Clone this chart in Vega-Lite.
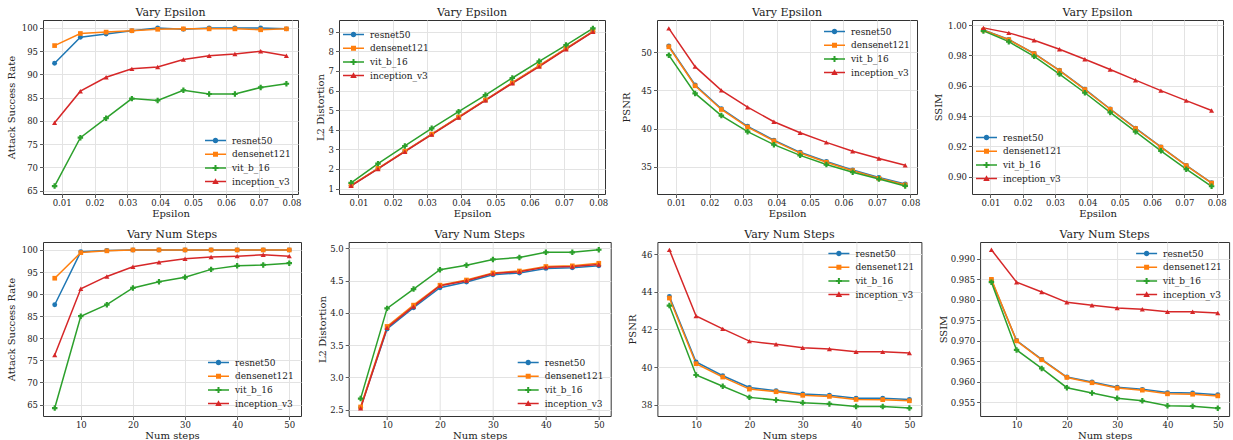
{
  "$schema": "https://vega.github.io/schema/vega-lite/v6.json",
  "padding": {"left": 5, "top": 6, "right": 2, "bottom": 1},
  "datasets": {
    "eps": [
      {"eps": 0.00784, "model": "resnet50", "asr": 92.4, "l2": 1.15, "psnr": 50.8, "ssim": 0.9968},
      {"eps": 0.01569, "model": "resnet50", "asr": 98.0, "l2": 2.02, "psnr": 45.7, "ssim": 0.9905},
      {"eps": 0.02353, "model": "resnet50", "asr": 98.7, "l2": 2.9, "psnr": 42.6, "ssim": 0.9813},
      {"eps": 0.03137, "model": "resnet50", "asr": 99.4, "l2": 3.77, "psnr": 40.3, "ssim": 0.9702},
      {"eps": 0.03922, "model": "resnet50", "asr": 100.0, "l2": 4.64, "psnr": 38.5, "ssim": 0.9578},
      {"eps": 0.04706, "model": "resnet50", "asr": 99.7, "l2": 5.51, "psnr": 36.9, "ssim": 0.9447},
      {"eps": 0.0549, "model": "resnet50", "asr": 100.0, "l2": 6.39, "psnr": 35.7, "ssim": 0.932},
      {"eps": 0.06275, "model": "resnet50", "asr": 100.0, "l2": 7.26, "psnr": 34.6, "ssim": 0.9197},
      {"eps": 0.07059, "model": "resnet50", "asr": 100.0, "l2": 8.14, "psnr": 33.6, "ssim": 0.9075},
      {"eps": 0.07843, "model": "resnet50", "asr": 99.8, "l2": 9.01, "psnr": 32.75, "ssim": 0.896},
      {"eps": 0.00784, "model": "densenet121", "asr": 96.2, "l2": 1.16, "psnr": 50.7, "ssim": 0.9967},
      {"eps": 0.01569, "model": "densenet121", "asr": 98.8, "l2": 2.03, "psnr": 45.6, "ssim": 0.9904},
      {"eps": 0.02353, "model": "densenet121", "asr": 99.1, "l2": 2.91, "psnr": 42.5, "ssim": 0.9812},
      {"eps": 0.03137, "model": "densenet121", "asr": 99.4, "l2": 3.78, "psnr": 40.2, "ssim": 0.97},
      {"eps": 0.03922, "model": "densenet121", "asr": 99.7, "l2": 4.65, "psnr": 38.4, "ssim": 0.9575},
      {"eps": 0.04706, "model": "densenet121", "asr": 99.8, "l2": 5.52, "psnr": 36.8, "ssim": 0.9445},
      {"eps": 0.0549, "model": "densenet121", "asr": 99.8, "l2": 6.4, "psnr": 35.6, "ssim": 0.9318},
      {"eps": 0.06275, "model": "densenet121", "asr": 99.8, "l2": 7.27, "psnr": 34.5, "ssim": 0.9195},
      {"eps": 0.07059, "model": "densenet121", "asr": 99.6, "l2": 8.15, "psnr": 33.5, "ssim": 0.9073},
      {"eps": 0.07843, "model": "densenet121", "asr": 99.8, "l2": 9.02, "psnr": 32.65, "ssim": 0.8958},
      {"eps": 0.00784, "model": "vit_b_16", "asr": 66.0, "l2": 1.29, "psnr": 49.6, "ssim": 0.9962},
      {"eps": 0.01569, "model": "vit_b_16", "asr": 76.4, "l2": 2.27, "psnr": 44.6, "ssim": 0.9891},
      {"eps": 0.02353, "model": "vit_b_16", "asr": 80.6, "l2": 3.17, "psnr": 41.7, "ssim": 0.9794},
      {"eps": 0.03137, "model": "vit_b_16", "asr": 84.8, "l2": 4.07, "psnr": 39.6, "ssim": 0.9677},
      {"eps": 0.03922, "model": "vit_b_16", "asr": 84.4, "l2": 4.92, "psnr": 37.9, "ssim": 0.9554},
      {"eps": 0.04706, "model": "vit_b_16", "asr": 86.6, "l2": 5.77, "psnr": 36.5, "ssim": 0.9424},
      {"eps": 0.0549, "model": "vit_b_16", "asr": 85.8, "l2": 6.64, "psnr": 35.3, "ssim": 0.9297},
      {"eps": 0.06275, "model": "vit_b_16", "asr": 85.8, "l2": 7.49, "psnr": 34.3, "ssim": 0.9171},
      {"eps": 0.07059, "model": "vit_b_16", "asr": 87.2, "l2": 8.32, "psnr": 33.4, "ssim": 0.905},
      {"eps": 0.07843, "model": "vit_b_16", "asr": 88.0, "l2": 9.17, "psnr": 32.5, "ssim": 0.8937},
      {"eps": 0.00784, "model": "inception_v3", "asr": 79.6, "l2": 1.14, "psnr": 53.1, "ssim": 0.9982},
      {"eps": 0.01569, "model": "inception_v3", "asr": 86.4, "l2": 2.0, "psnr": 48.1, "ssim": 0.9949},
      {"eps": 0.02353, "model": "inception_v3", "asr": 89.4, "l2": 2.88, "psnr": 45.0, "ssim": 0.99},
      {"eps": 0.03137, "model": "inception_v3", "asr": 91.2, "l2": 3.75, "psnr": 42.8, "ssim": 0.9841},
      {"eps": 0.03922, "model": "inception_v3", "asr": 91.6, "l2": 4.62, "psnr": 40.9, "ssim": 0.9775},
      {"eps": 0.04706, "model": "inception_v3", "asr": 93.2, "l2": 5.5, "psnr": 39.45, "ssim": 0.9707},
      {"eps": 0.0549, "model": "inception_v3", "asr": 94.0, "l2": 6.37, "psnr": 38.2, "ssim": 0.9637},
      {"eps": 0.06275, "model": "inception_v3", "asr": 94.4, "l2": 7.22, "psnr": 37.05, "ssim": 0.9568},
      {"eps": 0.07059, "model": "inception_v3", "asr": 95.0, "l2": 8.11, "psnr": 36.1, "ssim": 0.9502},
      {"eps": 0.07843, "model": "inception_v3", "asr": 94.0, "l2": 9.0, "psnr": 35.2, "ssim": 0.9437}
    ],
    "steps": [
      {"steps": 5, "model": "resnet50", "asr": 87.6, "l2": 2.53, "psnr": 43.75, "ssim": 0.9848},
      {"steps": 10, "model": "resnet50", "asr": 99.6, "l2": 3.75, "psnr": 40.27, "ssim": 0.9701},
      {"steps": 15, "model": "resnet50", "asr": 99.9, "l2": 4.08, "psnr": 39.54, "ssim": 0.9655},
      {"steps": 20, "model": "resnet50", "asr": 100.0, "l2": 4.39, "psnr": 38.92, "ssim": 0.9612},
      {"steps": 25, "model": "resnet50", "asr": 100.0, "l2": 4.48, "psnr": 38.74, "ssim": 0.96},
      {"steps": 30, "model": "resnet50", "asr": 100.0, "l2": 4.59, "psnr": 38.57, "ssim": 0.9587},
      {"steps": 35, "model": "resnet50", "asr": 100.0, "l2": 4.62, "psnr": 38.5, "ssim": 0.9582},
      {"steps": 40, "model": "resnet50", "asr": 100.0, "l2": 4.69, "psnr": 38.35, "ssim": 0.9574},
      {"steps": 45, "model": "resnet50", "asr": 100.0, "l2": 4.7, "psnr": 38.35, "ssim": 0.9573},
      {"steps": 50, "model": "resnet50", "asr": 100.0, "l2": 4.73, "psnr": 38.28, "ssim": 0.9569},
      {"steps": 5, "model": "densenet121", "asr": 93.6, "l2": 2.54, "psnr": 43.67, "ssim": 0.985},
      {"steps": 10, "model": "densenet121", "asr": 99.4, "l2": 3.79, "psnr": 40.18, "ssim": 0.97},
      {"steps": 15, "model": "densenet121", "asr": 99.8, "l2": 4.12, "psnr": 39.47, "ssim": 0.9654},
      {"steps": 20, "model": "densenet121", "asr": 100.0, "l2": 4.43, "psnr": 38.83, "ssim": 0.9611},
      {"steps": 25, "model": "densenet121", "asr": 100.0, "l2": 4.51, "psnr": 38.69, "ssim": 0.9598},
      {"steps": 30, "model": "densenet121", "asr": 100.0, "l2": 4.62, "psnr": 38.5, "ssim": 0.9585},
      {"steps": 35, "model": "densenet121", "asr": 100.0, "l2": 4.65, "psnr": 38.44, "ssim": 0.958},
      {"steps": 40, "model": "densenet121", "asr": 100.0, "l2": 4.72, "psnr": 38.28, "ssim": 0.9571},
      {"steps": 45, "model": "densenet121", "asr": 100.0, "l2": 4.73, "psnr": 38.27, "ssim": 0.957},
      {"steps": 50, "model": "densenet121", "asr": 100.0, "l2": 4.77, "psnr": 38.21, "ssim": 0.9566},
      {"steps": 5, "model": "vit_b_16", "asr": 64.2, "l2": 2.67, "psnr": 43.27, "ssim": 0.9843},
      {"steps": 10, "model": "vit_b_16", "asr": 85.0, "l2": 4.07, "psnr": 39.58, "ssim": 0.9678},
      {"steps": 15, "model": "vit_b_16", "asr": 87.6, "l2": 4.37, "psnr": 38.98, "ssim": 0.9633},
      {"steps": 20, "model": "vit_b_16", "asr": 91.4, "l2": 4.67, "psnr": 38.39, "ssim": 0.9586},
      {"steps": 25, "model": "vit_b_16", "asr": 92.8, "l2": 4.74, "psnr": 38.25, "ssim": 0.9573},
      {"steps": 30, "model": "vit_b_16", "asr": 93.8, "l2": 4.83, "psnr": 38.1, "ssim": 0.956},
      {"steps": 35, "model": "vit_b_16", "asr": 95.6, "l2": 4.86, "psnr": 38.04, "ssim": 0.9554},
      {"steps": 40, "model": "vit_b_16", "asr": 96.4, "l2": 4.94, "psnr": 37.91, "ssim": 0.9542},
      {"steps": 45, "model": "vit_b_16", "asr": 96.6, "l2": 4.94, "psnr": 37.9, "ssim": 0.9541},
      {"steps": 50, "model": "vit_b_16", "asr": 97.0, "l2": 4.98, "psnr": 37.82, "ssim": 0.9536},
      {"steps": 5, "model": "inception_v3", "asr": 76.2, "l2": 2.52, "psnr": 46.23, "ssim": 0.9922},
      {"steps": 10, "model": "inception_v3", "asr": 91.2, "l2": 3.77, "psnr": 42.72, "ssim": 0.9843},
      {"steps": 15, "model": "inception_v3", "asr": 94.0, "l2": 4.1, "psnr": 42.03, "ssim": 0.9819},
      {"steps": 20, "model": "inception_v3", "asr": 96.2, "l2": 4.42, "psnr": 41.38, "ssim": 0.9794},
      {"steps": 25, "model": "inception_v3", "asr": 97.2, "l2": 4.5, "psnr": 41.21, "ssim": 0.9787},
      {"steps": 30, "model": "inception_v3", "asr": 98.0, "l2": 4.61, "psnr": 41.03, "ssim": 0.978},
      {"steps": 35, "model": "inception_v3", "asr": 98.4, "l2": 4.64, "psnr": 40.96, "ssim": 0.9777},
      {"steps": 40, "model": "inception_v3", "asr": 98.6, "l2": 4.71, "psnr": 40.82, "ssim": 0.9771},
      {"steps": 45, "model": "inception_v3", "asr": 98.9, "l2": 4.72, "psnr": 40.81, "ssim": 0.9771},
      {"steps": 50, "model": "inception_v3", "asr": 98.6, "l2": 4.75, "psnr": 40.75, "ssim": 0.9768}
    ]
  },
  "resolve": {"scale": {"color": "independent", "fill": "independent", "shape": "independent"}},
  "spacing": 9,
  "vconcat": [
    {
      "resolve": {"scale": {"color": "independent", "fill": "independent", "shape": "independent"}},
      "spacing": 12,
      "hconcat": [
        {
          "width": 255, "height": 174, "title": "Vary Epsilon", "data": {"name": "eps"},
          "encoding": {
            "x": {"field": "eps", "type": "quantitative", "title": "Epsilon", "scale": {"domain": [0.00431, 0.08196], "nice": false, "zero": false}, "axis": {"values": [0.01, 0.02, 0.03, 0.04, 0.05, 0.06, 0.07, 0.08], "format": ".2f"}},
            "y": {"field": "asr", "type": "quantitative", "title": "Attack Success Rate", "scale": {"domain": [64.3, 101.7], "nice": false, "zero": false}, "axis": {"values": [65, 70, 75, 80, 85, 90, 95, 100], "titlePadding": 5}}
          },
          "layer": [
            {"mark": {"type": "point", "filled": true, "opacity": 0}, "encoding": {
              "fill": {"field": "model", "type": "nominal", "scale": {"domain": ["resnet50", "densenet121", "vit_b_16", "inception_v3"], "range": ["#1f77b4", "#ff7f0e", "#2ca02c", "#d62728"]}, "legend": {"title": null, "orient": "bottom-right"}},
              "shape": {"field": "model", "type": "nominal", "scale": {"domain": ["resnet50", "densenet121", "vit_b_16", "inception_v3"], "range": ["M-4.2,-0.3H4.2V0.3H-4.2ZM1.1,0A1.1,1.1,0,1,1,-1.1,0A1.1,1.1,0,1,1,1.1,0Z", "M-4.2,-0.3H4.2V0.3H-4.2ZM-1,-1H1V1H-1Z", "M-4.2,-0.3H4.2V0.3H-4.2ZM-1.2,-0.4H-0.4V-1.2H0.4V-0.4H1.2V0.4H0.4V1.2H-0.4V0.4H-1.2Z", "M-4.2,-0.3H4.2V0.3H-4.2ZM0,-1.3L1.3,1H-1.3Z"]}, "legend": {"title": null, "orient": "bottom-right"}}}},
            {"mark": {"type": "line", "strokeWidth": 1.5}, "encoding": {"color": {"field": "model", "type": "nominal", "scale": {"domain": ["resnet50", "densenet121", "vit_b_16", "inception_v3"], "range": ["#1f77b4", "#ff7f0e", "#2ca02c", "#d62728"]}, "legend": null}}},
            {"mark": {"type": "point", "filled": true, "opacity": 1}, "encoding": {
              "color": {"field": "model", "type": "nominal", "legend": null},
              "shape": {"condition": [{"test": "datum.model === 'resnet50'", "value": "circle"}, {"test": "datum.model === 'densenet121'", "value": "square"}, {"test": "datum.model === 'vit_b_16'", "value": "cross"}], "value": "triangle-up"},
              "size": {"condition": [{"test": "datum.model === 'resnet50'", "value": 24}, {"test": "datum.model === 'densenet121'", "value": 22}, {"test": "datum.model === 'vit_b_16'", "value": 30}], "value": 26}}}
          ]
        },
        {
          "width": 266, "height": 174, "title": "Vary Epsilon", "data": {"name": "eps"},
          "encoding": {
            "x": {"field": "eps", "type": "quantitative", "title": "Epsilon", "scale": {"domain": [0.00431, 0.08196], "nice": false, "zero": false}, "axis": {"values": [0.01, 0.02, 0.03, 0.04, 0.05, 0.06, 0.07, 0.08], "format": ".2f"}},
            "y": {"field": "l2", "type": "quantitative", "title": "L2 Distortion", "scale": {"domain": [0.72, 9.6], "nice": false, "zero": false}, "axis": {"values": [1, 2, 3, 4, 5, 6, 7, 8, 9], "titlePadding": 3}}
          },
          "layer": [
            {"mark": {"type": "point", "filled": true, "opacity": 0}, "encoding": {
              "fill": {"field": "model", "type": "nominal", "scale": {"domain": ["resnet50", "densenet121", "vit_b_16", "inception_v3"], "range": ["#1f77b4", "#ff7f0e", "#2ca02c", "#d62728"]}, "legend": {"title": null, "orient": "top-left", "offset": 7}},
              "shape": {"field": "model", "type": "nominal", "scale": {"domain": ["resnet50", "densenet121", "vit_b_16", "inception_v3"], "range": ["M-4.2,-0.3H4.2V0.3H-4.2ZM1.1,0A1.1,1.1,0,1,1,-1.1,0A1.1,1.1,0,1,1,1.1,0Z", "M-4.2,-0.3H4.2V0.3H-4.2ZM-1,-1H1V1H-1Z", "M-4.2,-0.3H4.2V0.3H-4.2ZM-1.2,-0.4H-0.4V-1.2H0.4V-0.4H1.2V0.4H0.4V1.2H-0.4V0.4H-1.2Z", "M-4.2,-0.3H4.2V0.3H-4.2ZM0,-1.3L1.3,1H-1.3Z"]}, "legend": {"title": null, "orient": "top-left", "offset": 7}}}},
            {"mark": {"type": "line", "strokeWidth": 1.5}, "encoding": {"color": {"field": "model", "type": "nominal", "scale": {"domain": ["resnet50", "densenet121", "vit_b_16", "inception_v3"], "range": ["#1f77b4", "#ff7f0e", "#2ca02c", "#d62728"]}, "legend": null}}},
            {"mark": {"type": "point", "filled": true, "opacity": 1}, "encoding": {
              "color": {"field": "model", "type": "nominal", "legend": null},
              "shape": {"condition": [{"test": "datum.model === 'resnet50'", "value": "circle"}, {"test": "datum.model === 'densenet121'", "value": "square"}, {"test": "datum.model === 'vit_b_16'", "value": "cross"}], "value": "triangle-up"},
              "size": {"condition": [{"test": "datum.model === 'resnet50'", "value": 24}, {"test": "datum.model === 'densenet121'", "value": 22}, {"test": "datum.model === 'vit_b_16'", "value": 30}], "value": 26}}}
          ]
        },
        {
          "width": 260, "height": 174, "title": "Vary Epsilon", "data": {"name": "eps"},
          "encoding": {
            "x": {"field": "eps", "type": "quantitative", "title": "Epsilon", "scale": {"domain": [0.00431, 0.08196], "nice": false, "zero": false}, "axis": {"values": [0.01, 0.02, 0.03, 0.04, 0.05, 0.06, 0.07, 0.08], "format": ".2f"}},
            "y": {"field": "psnr", "type": "quantitative", "title": "PSNR", "scale": {"domain": [31.45, 54.2], "nice": false, "zero": false}, "axis": {"values": [35, 40, 45, 50], "titlePadding": 9}}
          },
          "layer": [
            {"mark": {"type": "point", "filled": true, "opacity": 0}, "encoding": {
              "fill": {"field": "model", "type": "nominal", "scale": {"domain": ["resnet50", "densenet121", "vit_b_16", "inception_v3"], "range": ["#1f77b4", "#ff7f0e", "#2ca02c", "#d62728"]}, "legend": {"title": null, "orient": "top-right"}},
              "shape": {"field": "model", "type": "nominal", "scale": {"domain": ["resnet50", "densenet121", "vit_b_16", "inception_v3"], "range": ["M-4.2,-0.3H4.2V0.3H-4.2ZM1.1,0A1.1,1.1,0,1,1,-1.1,0A1.1,1.1,0,1,1,1.1,0Z", "M-4.2,-0.3H4.2V0.3H-4.2ZM-1,-1H1V1H-1Z", "M-4.2,-0.3H4.2V0.3H-4.2ZM-1.2,-0.4H-0.4V-1.2H0.4V-0.4H1.2V0.4H0.4V1.2H-0.4V0.4H-1.2Z", "M-4.2,-0.3H4.2V0.3H-4.2ZM0,-1.3L1.3,1H-1.3Z"]}, "legend": {"title": null, "orient": "top-right"}}}},
            {"mark": {"type": "line", "strokeWidth": 1.5}, "encoding": {"color": {"field": "model", "type": "nominal", "scale": {"domain": ["resnet50", "densenet121", "vit_b_16", "inception_v3"], "range": ["#1f77b4", "#ff7f0e", "#2ca02c", "#d62728"]}, "legend": null}}},
            {"mark": {"type": "point", "filled": true, "opacity": 1}, "encoding": {
              "color": {"field": "model", "type": "nominal", "legend": null},
              "shape": {"condition": [{"test": "datum.model === 'resnet50'", "value": "circle"}, {"test": "datum.model === 'densenet121'", "value": "square"}, {"test": "datum.model === 'vit_b_16'", "value": "cross"}], "value": "triangle-up"},
              "size": {"condition": [{"test": "datum.model === 'resnet50'", "value": 24}, {"test": "datum.model === 'densenet121'", "value": 22}, {"test": "datum.model === 'vit_b_16'", "value": 30}], "value": 26}}}
          ]
        },
        {
          "width": 251, "height": 174, "title": "Vary Epsilon", "data": {"name": "eps"},
          "encoding": {
            "x": {"field": "eps", "type": "quantitative", "title": "Epsilon", "scale": {"domain": [0.00431, 0.08196], "nice": false, "zero": false}, "axis": {"values": [0.01, 0.02, 0.03, 0.04, 0.05, 0.06, 0.07, 0.08], "format": ".2f"}},
            "y": {"field": "ssim", "type": "quantitative", "title": "SSIM", "scale": {"domain": [0.8886, 1.0034], "nice": false, "zero": false}, "axis": {"values": [0.9, 0.92, 0.94, 0.96, 0.98, 1.0], "format": ".2f", "titlePadding": 4}}
          },
          "layer": [
            {"mark": {"type": "point", "filled": true, "opacity": 0}, "encoding": {
              "fill": {"field": "model", "type": "nominal", "scale": {"domain": ["resnet50", "densenet121", "vit_b_16", "inception_v3"], "range": ["#1f77b4", "#ff7f0e", "#2ca02c", "#d62728"]}, "legend": {"title": null, "orient": "bottom-left", "offset": 7}},
              "shape": {"field": "model", "type": "nominal", "scale": {"domain": ["resnet50", "densenet121", "vit_b_16", "inception_v3"], "range": ["M-4.2,-0.3H4.2V0.3H-4.2ZM1.1,0A1.1,1.1,0,1,1,-1.1,0A1.1,1.1,0,1,1,1.1,0Z", "M-4.2,-0.3H4.2V0.3H-4.2ZM-1,-1H1V1H-1Z", "M-4.2,-0.3H4.2V0.3H-4.2ZM-1.2,-0.4H-0.4V-1.2H0.4V-0.4H1.2V0.4H0.4V1.2H-0.4V0.4H-1.2Z", "M-4.2,-0.3H4.2V0.3H-4.2ZM0,-1.3L1.3,1H-1.3Z"]}, "legend": {"title": null, "orient": "bottom-left", "offset": 7}}}},
            {"mark": {"type": "line", "strokeWidth": 1.5}, "encoding": {"color": {"field": "model", "type": "nominal", "scale": {"domain": ["resnet50", "densenet121", "vit_b_16", "inception_v3"], "range": ["#1f77b4", "#ff7f0e", "#2ca02c", "#d62728"]}, "legend": null}}},
            {"mark": {"type": "point", "filled": true, "opacity": 1}, "encoding": {
              "color": {"field": "model", "type": "nominal", "legend": null},
              "shape": {"condition": [{"test": "datum.model === 'resnet50'", "value": "circle"}, {"test": "datum.model === 'densenet121'", "value": "square"}, {"test": "datum.model === 'vit_b_16'", "value": "cross"}], "value": "triangle-up"},
              "size": {"condition": [{"test": "datum.model === 'resnet50'", "value": 24}, {"test": "datum.model === 'densenet121'", "value": 22}, {"test": "datum.model === 'vit_b_16'", "value": 30}], "value": 26}}}
          ]
        }
      ]
    },
    {
      "resolve": {"scale": {"color": "independent", "fill": "independent", "shape": "independent"}},
      "spacing": 14.7,
      "hconcat": [
        {
          "width": 258, "height": 174, "title": "Vary Num Steps", "data": {"name": "steps"},
          "encoding": {
            "x": {"field": "steps", "type": "quantitative", "title": "Num steps", "scale": {"domain": [2.75, 52.25], "nice": false, "zero": false}, "axis": {"values": [10, 20, 30, 40, 50]}},
            "y": {"field": "asr", "type": "quantitative", "title": "Attack Success Rate", "scale": {"domain": [62.4, 101.8], "nice": false, "zero": false}, "axis": {"values": [65, 70, 75, 80, 85, 90, 95, 100], "titlePadding": 5}}
          },
          "layer": [
            {"mark": {"type": "point", "filled": true, "opacity": 0}, "encoding": {
              "fill": {"field": "model", "type": "nominal", "scale": {"domain": ["resnet50", "densenet121", "vit_b_16", "inception_v3"], "range": ["#1f77b4", "#ff7f0e", "#2ca02c", "#d62728"]}, "legend": {"title": null, "orient": "bottom-right"}},
              "shape": {"field": "model", "type": "nominal", "scale": {"domain": ["resnet50", "densenet121", "vit_b_16", "inception_v3"], "range": ["M-4.2,-0.3H4.2V0.3H-4.2ZM1.1,0A1.1,1.1,0,1,1,-1.1,0A1.1,1.1,0,1,1,1.1,0Z", "M-4.2,-0.3H4.2V0.3H-4.2ZM-1,-1H1V1H-1Z", "M-4.2,-0.3H4.2V0.3H-4.2ZM-1.2,-0.4H-0.4V-1.2H0.4V-0.4H1.2V0.4H0.4V1.2H-0.4V0.4H-1.2Z", "M-4.2,-0.3H4.2V0.3H-4.2ZM0,-1.3L1.3,1H-1.3Z"]}, "legend": {"title": null, "orient": "bottom-right"}}}},
            {"mark": {"type": "line", "strokeWidth": 1.5}, "encoding": {"color": {"field": "model", "type": "nominal", "scale": {"domain": ["resnet50", "densenet121", "vit_b_16", "inception_v3"], "range": ["#1f77b4", "#ff7f0e", "#2ca02c", "#d62728"]}, "legend": null}}},
            {"mark": {"type": "point", "filled": true, "opacity": 1}, "encoding": {
              "color": {"field": "model", "type": "nominal", "legend": null},
              "shape": {"condition": [{"test": "datum.model === 'resnet50'", "value": "circle"}, {"test": "datum.model === 'densenet121'", "value": "square"}, {"test": "datum.model === 'vit_b_16'", "value": "cross"}], "value": "triangle-up"},
              "size": {"condition": [{"test": "datum.model === 'resnet50'", "value": 24}, {"test": "datum.model === 'densenet121'", "value": 22}, {"test": "datum.model === 'vit_b_16'", "value": 30}], "value": 26}}}
          ]
        },
        {
          "width": 262, "height": 174, "title": "Vary Num Steps", "data": {"name": "steps"},
          "encoding": {
            "x": {"field": "steps", "type": "quantitative", "title": "Num steps", "scale": {"domain": [2.75, 52.25], "nice": false, "zero": false}, "axis": {"values": [10, 20, 30, 40, 50]}},
            "y": {"field": "l2", "type": "quantitative", "title": "L2 Distortion", "scale": {"domain": [2.4, 5.1], "nice": false, "zero": false}, "axis": {"values": [2.5, 3.0, 3.5, 4.0, 4.5, 5.0], "format": ".1f", "titlePadding": 2}}
          },
          "layer": [
            {"mark": {"type": "point", "filled": true, "opacity": 0}, "encoding": {
              "fill": {"field": "model", "type": "nominal", "scale": {"domain": ["resnet50", "densenet121", "vit_b_16", "inception_v3"], "range": ["#1f77b4", "#ff7f0e", "#2ca02c", "#d62728"]}, "legend": {"title": null, "orient": "bottom-right"}},
              "shape": {"field": "model", "type": "nominal", "scale": {"domain": ["resnet50", "densenet121", "vit_b_16", "inception_v3"], "range": ["M-4.2,-0.3H4.2V0.3H-4.2ZM1.1,0A1.1,1.1,0,1,1,-1.1,0A1.1,1.1,0,1,1,1.1,0Z", "M-4.2,-0.3H4.2V0.3H-4.2ZM-1,-1H1V1H-1Z", "M-4.2,-0.3H4.2V0.3H-4.2ZM-1.2,-0.4H-0.4V-1.2H0.4V-0.4H1.2V0.4H0.4V1.2H-0.4V0.4H-1.2Z", "M-4.2,-0.3H4.2V0.3H-4.2ZM0,-1.3L1.3,1H-1.3Z"]}, "legend": {"title": null, "orient": "bottom-right"}}}},
            {"mark": {"type": "line", "strokeWidth": 1.5}, "encoding": {"color": {"field": "model", "type": "nominal", "scale": {"domain": ["resnet50", "densenet121", "vit_b_16", "inception_v3"], "range": ["#1f77b4", "#ff7f0e", "#2ca02c", "#d62728"]}, "legend": null}}},
            {"mark": {"type": "point", "filled": true, "opacity": 1}, "encoding": {
              "color": {"field": "model", "type": "nominal", "legend": null},
              "shape": {"condition": [{"test": "datum.model === 'resnet50'", "value": "circle"}, {"test": "datum.model === 'densenet121'", "value": "square"}, {"test": "datum.model === 'vit_b_16'", "value": "cross"}], "value": "triangle-up"},
              "size": {"condition": [{"test": "datum.model === 'resnet50'", "value": 24}, {"test": "datum.model === 'densenet121'", "value": 22}, {"test": "datum.model === 'vit_b_16'", "value": 30}], "value": 26}}}
          ]
        },
        {
          "width": 264, "height": 174, "title": "Vary Num Steps", "data": {"name": "steps"},
          "encoding": {
            "x": {"field": "steps", "type": "quantitative", "title": "Num steps", "scale": {"domain": [2.75, 52.25], "nice": false, "zero": false}, "axis": {"values": [10, 20, 30, 40, 50]}},
            "y": {"field": "psnr", "type": "quantitative", "title": "PSNR", "scale": {"domain": [37.4, 46.65], "nice": false, "zero": false}, "axis": {"values": [38, 40, 42, 44, 46], "titlePadding": 4}}
          },
          "layer": [
            {"mark": {"type": "point", "filled": true, "opacity": 0}, "encoding": {
              "fill": {"field": "model", "type": "nominal", "scale": {"domain": ["resnet50", "densenet121", "vit_b_16", "inception_v3"], "range": ["#1f77b4", "#ff7f0e", "#2ca02c", "#d62728"]}, "legend": {"title": null, "orient": "top-right"}},
              "shape": {"field": "model", "type": "nominal", "scale": {"domain": ["resnet50", "densenet121", "vit_b_16", "inception_v3"], "range": ["M-4.2,-0.3H4.2V0.3H-4.2ZM1.1,0A1.1,1.1,0,1,1,-1.1,0A1.1,1.1,0,1,1,1.1,0Z", "M-4.2,-0.3H4.2V0.3H-4.2ZM-1,-1H1V1H-1Z", "M-4.2,-0.3H4.2V0.3H-4.2ZM-1.2,-0.4H-0.4V-1.2H0.4V-0.4H1.2V0.4H0.4V1.2H-0.4V0.4H-1.2Z", "M-4.2,-0.3H4.2V0.3H-4.2ZM0,-1.3L1.3,1H-1.3Z"]}, "legend": {"title": null, "orient": "top-right"}}}},
            {"mark": {"type": "line", "strokeWidth": 1.5}, "encoding": {"color": {"field": "model", "type": "nominal", "scale": {"domain": ["resnet50", "densenet121", "vit_b_16", "inception_v3"], "range": ["#1f77b4", "#ff7f0e", "#2ca02c", "#d62728"]}, "legend": null}}},
            {"mark": {"type": "point", "filled": true, "opacity": 1}, "encoding": {
              "color": {"field": "model", "type": "nominal", "legend": null},
              "shape": {"condition": [{"test": "datum.model === 'resnet50'", "value": "circle"}, {"test": "datum.model === 'densenet121'", "value": "square"}, {"test": "datum.model === 'vit_b_16'", "value": "cross"}], "value": "triangle-up"},
              "size": {"condition": [{"test": "datum.model === 'resnet50'", "value": 24}, {"test": "datum.model === 'densenet121'", "value": 22}, {"test": "datum.model === 'vit_b_16'", "value": 30}], "value": 26}}}
          ]
        },
        {
          "width": 249, "height": 174, "title": "Vary Num Steps", "data": {"name": "steps"},
          "encoding": {
            "x": {"field": "steps", "type": "quantitative", "title": "Num steps", "scale": {"domain": [2.75, 52.25], "nice": false, "zero": false}, "axis": {"values": [10, 20, 30, 40, 50]}},
            "y": {"field": "ssim", "type": "quantitative", "title": "SSIM", "scale": {"domain": [0.9517, 0.9941], "nice": false, "zero": false}, "axis": {"values": [0.955, 0.96, 0.965, 0.97, 0.975, 0.98, 0.985, 0.99], "format": ".3f", "titlePadding": 2}}
          },
          "layer": [
            {"mark": {"type": "point", "filled": true, "opacity": 0}, "encoding": {
              "fill": {"field": "model", "type": "nominal", "scale": {"domain": ["resnet50", "densenet121", "vit_b_16", "inception_v3"], "range": ["#1f77b4", "#ff7f0e", "#2ca02c", "#d62728"]}, "legend": {"title": null, "orient": "top-right"}},
              "shape": {"field": "model", "type": "nominal", "scale": {"domain": ["resnet50", "densenet121", "vit_b_16", "inception_v3"], "range": ["M-4.2,-0.3H4.2V0.3H-4.2ZM1.1,0A1.1,1.1,0,1,1,-1.1,0A1.1,1.1,0,1,1,1.1,0Z", "M-4.2,-0.3H4.2V0.3H-4.2ZM-1,-1H1V1H-1Z", "M-4.2,-0.3H4.2V0.3H-4.2ZM-1.2,-0.4H-0.4V-1.2H0.4V-0.4H1.2V0.4H0.4V1.2H-0.4V0.4H-1.2Z", "M-4.2,-0.3H4.2V0.3H-4.2ZM0,-1.3L1.3,1H-1.3Z"]}, "legend": {"title": null, "orient": "top-right"}}}},
            {"mark": {"type": "line", "strokeWidth": 1.5}, "encoding": {"color": {"field": "model", "type": "nominal", "scale": {"domain": ["resnet50", "densenet121", "vit_b_16", "inception_v3"], "range": ["#1f77b4", "#ff7f0e", "#2ca02c", "#d62728"]}, "legend": null}}},
            {"mark": {"type": "point", "filled": true, "opacity": 1}, "encoding": {
              "color": {"field": "model", "type": "nominal", "legend": null},
              "shape": {"condition": [{"test": "datum.model === 'resnet50'", "value": "circle"}, {"test": "datum.model === 'densenet121'", "value": "square"}, {"test": "datum.model === 'vit_b_16'", "value": "cross"}], "value": "triangle-up"},
              "size": {"condition": [{"test": "datum.model === 'resnet50'", "value": 24}, {"test": "datum.model === 'densenet121'", "value": 22}, {"test": "datum.model === 'vit_b_16'", "value": 30}], "value": 26}}}
          ]
        }
      ]
    }
  ],
  "config": {
    "font": "DejaVu Serif",
    "view": {"stroke": "#333333", "strokeWidth": 1},
    "axis": {"domain": false, "grid": true, "gridColor": "#e3e3e3", "gridWidth": 1, "tickColor": "#333333", "tickSize": 3.5, "tickWidth": 0.8, "labelFont": "DejaVu Serif", "labelFontSize": 8.5, "labelColor": "#222222", "titleFont": "DejaVu Serif", "titleFontSize": 10, "titleFontWeight": "normal", "titleColor": "#222222", "minExtent": 0},
    "axisX": {"labelPadding": 0.5, "titlePadding": 1.5},
    "axisY": {"labelPadding": 2, "minExtent": 0},
    "title": {"font": "DejaVu Serif", "fontSize": 11, "fontWeight": "normal", "color": "#222222", "offset": 2},
    "legend": {"labelFont": "DejaVu Serif", "labelFontSize": 9, "labelColor": "#222222", "symbolSize": 25, "symbolStrokeWidth": 0, "symbolOpacity": 1, "labelOffset": 12, "rowPadding": 3.7, "padding": 3, "offset": 4}
  }
}
